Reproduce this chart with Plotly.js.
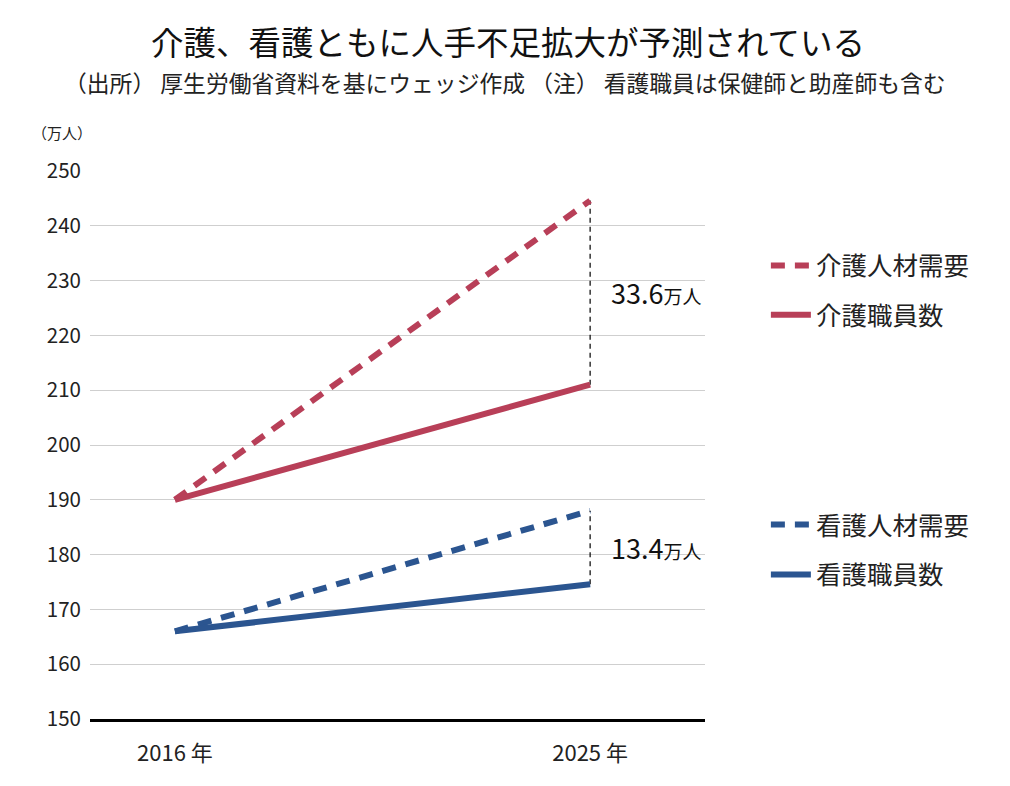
<!DOCTYPE html>
<html>
<head>
<meta charset="utf-8">
<script src="https://cdn.plot.ly/plotly-3.0.1.min.js"></script>
<style>html,body{margin:0;padding:0;background:#fff;}#chart{width:1010px;height:786px;}</style>
</head>
<body>
<div id="chart"></div>
<script>
const years = [2016, 2025];
const yearLabels = ["2016 年", "2025 年"];
const kaigoDemand = [190, 244.6];
const kaigoStaff = [190, 211.0];
const kangoDemand = [166, 188.0];
const kangoStaff = [166, 174.6];
const seriesNames = ["介護人材需要", "介護職員数", "看護人材需要", "看護職員数"];
const yTicks = [150, 160, 170, 180, 190, 200, 210, 220, 230, 240, 250];

const FONT = '"Noto Sans CJK JP", "Noto Sans", sans-serif';
const RED = '#b83f58';
const BLUE = '#2b5590';
const DASH = '14px,10px';

const last = years.length - 1;
const gapKaigo = kaigoDemand[last] - kaigoStaff[last];
const gapKango = kangoDemand[last] - kangoStaff[last];

const traces = [
  {x: [years[last], years[last]], y: [kaigoStaff[last], kaigoDemand[last]], mode: 'lines',
   line: {color: '#000', width: 1.2, dash: '5px,4px'}, showlegend: false, hoverinfo: 'skip'},
  {x: [years[last], years[last]], y: [kangoStaff[last], kangoDemand[last]], mode: 'lines',
   line: {color: '#000', width: 1.2, dash: '5px,4px'}, showlegend: false, hoverinfo: 'skip'},
  {x: years, y: kaigoDemand, name: seriesNames[0], mode: 'lines',
   line: {color: RED, width: 6, dash: DASH}, legend: 'legend'},
  {x: years, y: kaigoStaff, name: seriesNames[1], mode: 'lines',
   line: {color: RED, width: 6}, legend: 'legend2'},
  {x: years, y: kangoDemand, name: seriesNames[2], mode: 'lines',
   line: {color: BLUE, width: 6, dash: DASH}, legend: 'legend3'},
  {x: years, y: kangoStaff, name: seriesNames[3], mode: 'lines',
   line: {color: BLUE, width: 6}, legend: 'legend4'}
];

function leg(y) {
  return {x: 1.099, xanchor: 'left', y: y, yanchor: 'middle', bgcolor: 'rgba(0,0,0,0)',
          font: {family: FONT, size: 25.5, color: '#222'}, itemwidth: 40};
}

const layout = {
  width: 1010, height: 786,
  paper_bgcolor: '#fff', plot_bgcolor: '#fff',
  margin: {l: 90, r: 305, t: 171, b: 67},
  font: {family: FONT, color: '#222'},
  title: {text: '介護、看護ともに人手不足拡大が予測されている', x: 0.503, xref: 'container',
          y: 0.944, yref: 'container', yanchor: 'middle', xanchor: 'center',
          font: {family: FONT, size: 32.5, color: '#111'}},
  xaxis: {range: [2014.16, 2027.49], tickvals: years, ticktext: yearLabels,
          showgrid: false, zeroline: false, showline: true, linecolor: '#000', linewidth: 2.5,
          ticks: '', ticklabelstandoff: 13, tickfont: {family: FONT, size: 22, color: '#222'}, fixedrange: true},
  yaxis: {range: [150, 250], tickvals: yTicks, showgrid: true, gridcolor: '#cfcfcf', gridwidth: 1,
          zeroline: false, showline: false, ticks: '', ticklabelstandoff: 8,
          tickfont: {family: FONT, size: 20.5, color: '#222'}, fixedrange: true},
  legend: leg(0.827),
  legend2: leg(0.737),
  legend3: leg(0.354),
  legend4: leg(0.263),
  annotations: [
    {text: '（出所） 厚生労働省資料を基にウェッジ作成 （注） 看護職員は保健師と助産師も含む',
     xref: 'paper', yref: 'paper', x: 0.675, y: 1.162, xanchor: 'center', yanchor: 'middle',
     showarrow: false, font: {family: FONT, size: 22.8, color: '#222'}},
    {text: '（万人）', xref: 'paper', yref: 'paper', x: -0.045, y: 1.07, xanchor: 'center', yanchor: 'middle',
     showarrow: false, font: {family: FONT, size: 15, color: '#222'}},
    {text: gapKaigo.toFixed(1) + '<span style="font-size:19px">万人</span>', xref: 'x', yref: 'y',
     x: years[last], y: (kaigoStaff[last] + kaigoDemand[last]) / 2, xanchor: 'left', yanchor: 'middle',
     xshift: 19, showarrow: false, font: {family: FONT, size: 27, color: '#111'}},
    {text: gapKango.toFixed(1) + '<span style="font-size:19px">万人</span>', xref: 'x', yref: 'y',
     x: years[last], y: (kangoStaff[last] + kangoDemand[last]) / 2, xanchor: 'left', yanchor: 'middle',
     xshift: 19, showarrow: false, font: {family: FONT, size: 27, color: '#111'}}
  ]
};

Plotly.newPlot('chart', traces, layout, {displayModeBar: false, staticPlot: true});
</script>
</body>
</html>
